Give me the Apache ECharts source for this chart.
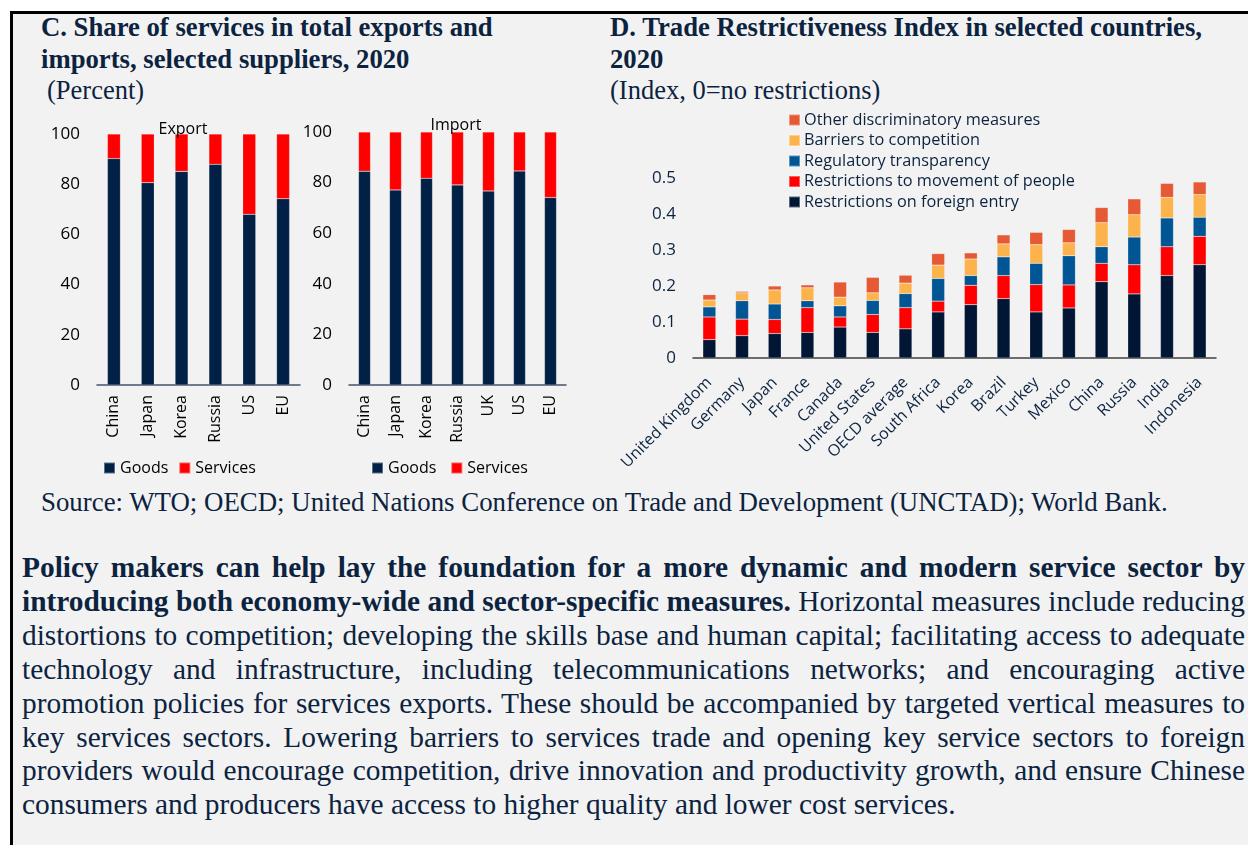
<!DOCTYPE html>
<html>
<head>
<meta charset="utf-8">
<script src="https://cdn.jsdelivr.net/npm/echarts@6/dist/echarts.min.js"></script>
<style>
  html, body { margin: 0; padding: 0; background: #fff; }
  #box {
    position: absolute; left: 10px; top: 11px; width: 1260px; height: 850px;
    border-top: 3px solid #000; border-left: 3px solid #000; background: #f2f2f2;
  }
  #chart { position: absolute; left: 0; top: 0; width: 1248px; height: 540px; }
  .txt { position: absolute; font-family: "Liberation Serif", "Times New Roman", serif; color: #0c2340; white-space: nowrap; }
  .ttl { font-weight: bold; font-size: 26.7px; line-height: 32px; }
  .sub { font-size: 26.5px; line-height: 30px; }
  #para { position: absolute; left: 22px; top: 551px; width: 1223px; font-family: "Liberation Serif", serif;
    font-size: 29.4px; line-height: 33.9px; color: #0c2340; }
  #para div { text-align: justify; text-align-last: justify; white-space: nowrap; }
  #para div.last { text-align-last: left; }
</style>
</head>
<body>
<div id="box"></div>
<div class="txt ttl" style="left:41px;top:11px;">C. Share of services in total exports and<br>imports, selected suppliers, 2020</div>
<div class="txt sub" style="left:47px;top:75px;">(Percent)</div>
<div class="txt ttl" style="left:610px;top:11px;">D. Trade Restrictiveness Index in selected countries,<br>2020</div>
<div class="txt sub" style="left:610px;top:75px;">(Index, 0=no restrictions)</div>
<div class="txt" style="left:41px;top:487px;font-size:26.85px;line-height:30px;">Source: WTO; OECD; United Nations Conference on Trade and Development (UNCTAD); World Bank.</div>
<div id="para">
  <div><b>Policy makers can help lay the foundation for a more dynamic and modern service sector by</b></div>
  <div><b>introducing both economy-wide and sector-specific measures.</b> Horizontal measures include reducing</div>
  <div>distortions to competition; developing the skills base and human capital; facilitating access to adequate</div>
  <div>technology and infrastructure, including telecommunications networks; and encouraging active</div>
  <div>promotion policies for services exports. These should be accompanied by targeted vertical measures to</div>
  <div>key services sectors. Lowering barriers to services trade and opening key service sectors to foreign</div>
  <div>providers would encourage competition, drive innovation and productivity growth, and ensure Chinese</div>
  <div class="last">consumers and producers have access to higher quality and lower cost services.</div>
</div>
<div id="chart"></div>
<script>
// panel C
var exportCountries = ['China', 'Japan', 'Korea', 'Russia', 'US', 'EU']
var exportGoods = [90.2, 80.6, 85.1, 87.9, 68.0, 74.2]
var exportServices = [9.8, 19.4, 14.9, 12.1, 32.0, 25.8]
var importCountries = ['China', 'Japan', 'Korea', 'Russia', 'UK', 'US', 'EU']
var importGoods = [84.5, 77.1, 81.7, 79.1, 76.7, 84.6, 74.1]
var importServices = [15.5, 22.9, 18.3, 20.9, 23.3, 15.4, 25.9]
var shareTicks = [0, 20, 40, 60, 80, 100]

// panel D
var triCountries = ['United Kingdom', 'Germany', 'Japan', 'France', 'Canada', 'United States', 'OECD average',
  'South Africa', 'Korea', 'Brazil', 'Turkey', 'Mexico', 'China', 'Russia', 'India', 'Indonesia']
var foreignEntry = [0.051, 0.062, 0.068, 0.071, 0.086, 0.071, 0.081, 0.128, 0.148, 0.165, 0.128, 0.139, 0.212, 0.178, 0.229, 0.259]
var movementPeople = [0.063, 0.046, 0.039, 0.069, 0.028, 0.050, 0.059, 0.030, 0.054, 0.064, 0.076, 0.064, 0.051, 0.081, 0.080, 0.079]
var regTransparency = [0.028, 0.051, 0.043, 0.019, 0.031, 0.039, 0.039, 0.063, 0.027, 0.052, 0.059, 0.081, 0.046, 0.077, 0.080, 0.053]
var barriersComp = [0.019, 0.022, 0.039, 0.036, 0.024, 0.021, 0.029, 0.037, 0.046, 0.036, 0.052, 0.036, 0.067, 0.062, 0.057, 0.063]
var otherDiscrim = [0.015, 0.004, 0.011, 0.008, 0.042, 0.043, 0.022, 0.032, 0.017, 0.025, 0.034, 0.037, 0.042, 0.044, 0.039, 0.035]
var triTicks = [0, 0.1, 0.2, 0.3, 0.4, 0.5]

var navy = '#0c2340'
var sans = 'Open Sans'

function catAxis (idx, data, rotate, margin, color, lineColor) {
  return {
    type: 'category', gridIndex: idx, data: data,
    axisTick: { show: false },
    axisLine: { lineStyle: { color: lineColor, width: 1.5 } },
    axisLabel: { interval: 0, rotate: rotate, margin: margin, fontFamily: sans, fontSize: 16, color: color }
  }
}
function valAxis (idx, ticks, color) {
  return {
    type: 'value', gridIndex: idx, min: ticks[0], max: ticks[ticks.length - 1],
    interval: ticks[1] - ticks[0],
    splitLine: { show: false }, axisLine: { show: false }, axisTick: { show: false },
    axisLabel: { margin: 17, fontFamily: sans, fontSize: 17, color: color }
  }
}
function bar (name, x, data, color, stack, width) {
  return {
    name: name, type: 'bar', stack: stack, xAxisIndex: x, yAxisIndex: x, data: data,
    barWidth: width, itemStyle: { color: color, borderColor: 'rgba(255,255,255,0.35)', borderWidth: 0.5 },
    emphasis: { disabled: true }
  }
}

var chart = echarts.init(document.getElementById('chart'))
chart.setOption({
  animation: false,
  title: [
    { text: 'Export', left: 178, top: 116, textAlign: 'center', textStyle: { fontFamily: sans, fontSize: 16, fontWeight: 'normal', color: '#000' } },
    { text: 'Import', left: 451, top: 112, textAlign: 'center', textStyle: { fontFamily: sans, fontSize: 16, fontWeight: 'normal', color: '#000' } }
  ],
  grid: [
    { left: 97, top: 134, width: 203, height: 251 },
    { left: 349, top: 132, width: 217, height: 253 },
    { left: 693, top: 178, width: 523, height: 180 }
  ],
  legend: [
    { left: 103, top: 460, padding: 0, itemWidth: 11, itemHeight: 11, itemGap: 10, icon: 'rect', data: ['Goods', 'Services'],
      textStyle: { fontFamily: sans, fontSize: 16, color: '#000' } },
    { left: 371, top: 460, padding: 0, itemWidth: 11, itemHeight: 11, itemGap: 14, icon: 'rect', data: ['Goods', 'Services'],
      textStyle: { fontFamily: sans, fontSize: 16, color: '#000' } },
    { left: 788, top: 112, padding: 0, orient: 'vertical', itemWidth: 11, itemHeight: 11, itemGap: 4.5, icon: 'rect',
      data: ['Other discriminatory measures', 'Barriers to competition', 'Regulatory transparency',
        'Restrictions to movement of people', 'Restrictions on foreign entry'],
      textStyle: { fontFamily: sans, fontSize: 16.3, lineHeight: 16, color: navy, padding: [0, 0, 0, -1] } }
  ],
  xAxis: [
    catAxis(0, exportCountries, 90, 10, '#000', '#44546a'),
    catAxis(1, importCountries, 90, 10, '#000', '#44546a'),
    catAxis(2, triCountries, 45, 22, navy, '#404040')
  ],
  yAxis: [
    valAxis(0, shareTicks, '#000'),
    valAxis(1, shareTicks, '#000'),
    valAxis(2, triTicks, navy)
  ],
  series: [
    bar('Goods', 0, exportGoods, '#002045', 'e', 13),
    bar('Services', 0, exportServices, '#ff0000', 'e', 13),
    bar('Goods', 1, importGoods, '#002045', 'i', 12),
    bar('Services', 1, importServices, '#ff0000', 'i', 12),
    bar('Restrictions on foreign entry', 2, foreignEntry, '#001634', 'd', 13),
    bar('Restrictions to movement of people', 2, movementPeople, '#ff0000', 'd', 13),
    bar('Regulatory transparency', 2, regTransparency, '#005595', 'd', 13),
    bar('Barriers to competition', 2, barriersComp, '#fdb34c', 'd', 13),
    bar('Other discriminatory measures', 2, otherDiscrim, '#e55934', 'd', 13)
  ]
})
</script>
</body>
</html>
